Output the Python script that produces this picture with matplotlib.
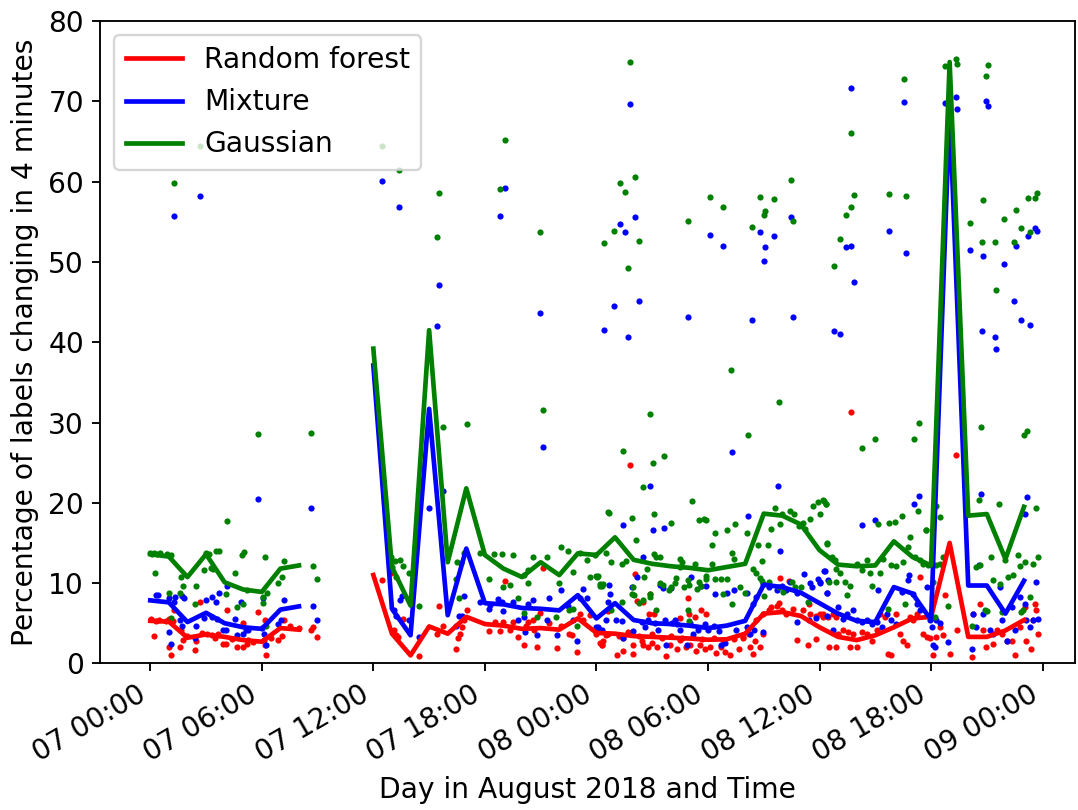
import numpy as np
import pandas as pd
import matplotlib
matplotlib.use('Agg')
import matplotlib.pyplot as plt
import matplotlib.dates as mdates

nan = float('nan')

# hourly averages, hours since 2018-08-07 00:00 (no data 09:00-11:00)
rf_hourly = [5.3, 5.2, 3.2, 3.6, 3.3, 2.9, 2.7, 4.4, 4.2, nan, nan, nan,
             11.0, 3.7, 1.0, 4.6, 3.7, 5.8, 4.9, 4.7, 4.3, 4.4, 4.2, 5.6,
             3.8, 3.7, 3.4, 3.3, 3.2, 3.1, 2.95, 3.0, 3.7, 6.2, 6.4, 5.9,
             4.5, 3.3, 2.9, 3.5, 4.5, 5.6, 5.8, 15.0, 3.3, 3.3, 4.1, 5.4]
mix_hourly = [7.85, 7.6, 5.15, 6.3, 5.0, 4.5, 4.3, 6.7, 7.1, nan, nan, nan,
              37.1, 6.8, 3.5, 31.7, 6.0, 14.3, 7.5, 7.35, 6.9, 6.8, 6.6, 8.5,
              5.6, 7.5, 5.4, 5.0, 4.9, 4.7, 4.4, 4.7, 5.3, 9.8, 9.5, 8.8,
              7.5, 6.2, 5.3, 5.15, 9.5, 8.7, 5.4, 69.0, 9.7, 9.7, 6.2, 10.3]
gau_hourly = [13.6, 13.3, 10.75, 13.6, 10.1, 9.2, 8.9, 11.8, 12.2, nan, nan, nan,
              39.2, 12.0, 7.2, 41.5, 12.6, 21.8, 13.5, 11.8, 10.75, 12.6, 11.0, 13.7,
              13.5, 15.7, 12.9, 12.4, 12.1, 11.9, 11.6, 12.0, 12.4, 18.65, 18.4, 17.3,
              14.1, 12.3, 12.1, 12.2, 15.2, 13.25, 12.2, 74.9, 18.4, 18.6, 13.0, 19.5]

# individual measurements (hours since 2018-08-07 00:00, percentage)
rf_points = [
    (0.05, 5.5), (0.2, 3.45), (0.3, 5.3), (0.45, 5.4), (0.85, 5.3), (1.0, 5.5), (1.1, 5.4), (1.2, 5.3),
    (0.99, 2.0), (1.13, 1.1), (1.25, 6.6), (1.58, 2.0), (1.68, 4.1), (1.78, 2.95), (2.38, 1.7), (2.47, 2.8),
    (2.69, 7.6), (3.05, 3.6), (3.3, 3.5), (3.67, 3.7), (4.12, 6.6), (3.9, 2.45), (4.05, 2.45), (4.66, 2.0),
    (4.98, 2.0), (4.98, 5.0), (5.2, 2.45), (5.25, 2.9), (5.79, 6.4), (6.1, 2.95), (6.15, 2.25), (6.24, 1.1),
    (6.18, 5.35), (6.85, 2.95), (7.08, 3.35), (7.22, 5.35), (8.64, 4.2), (8.78, 4.5), (8.96, 3.3),
    (2.0, 3.4), (2.8, 3.8), (3.5, 3.2), (4.4, 3.0), (5.5, 2.7), (6.5, 3.1), (7.5, 4.6), (8.0, 4.4),
    (12.45, 10.4), (12.96, 11.2), (13.1, 4.1), (13.2, 3.5), (13.35, 3.3), (13.6, 5.55), (14.43, 0.9),
    (15.55, 7.2), (15.4, 3.7), (15.77, 4.6), (16.45, 1.8), (16.55, 3.1), (16.65, 3.6), (16.75, 4.5),
    (16.9, 5.35), (17.06, 6.6), (18.2, 4.0), (18.55, 5.15), (18.8, 4.0), (19.0, 5.15), (19.09, 10.25),
    (19.35, 4.1), (19.5, 5.15), (19.77, 3.3), (20.1, 2.25), (20.2, 4.6), (20.3, 5.15), (20.57, 5.35),
    (20.62, 4.1), (20.82, 2.0), (20.97, 6.3), (21.15, 11.9), (21.47, 5.0), (21.86, 1.9), (22.1, 4.7),
    (22.5, 3.7), (22.7, 3.5), (22.97, 1.4), (23.1, 6.2), (23.3, 5.45), (23.66, 6.05), (24.0, 3.7),
    (24.2, 2.5), (24.3, 2.25), (24.5, 3.5),
    (24.01, 4.1), (24.28, 2.25), (24.37, 2.85), (24.64, 6.5), (25.09, 1.1), (25.41, 1.55), (25.41, 3.2),
    (25.8, 24.75), (25.95, 1.2), (25.99, 2.25), (26.1, 11.1), (26.2, 7.8), (26.43, 2.85), (26.5, 7.7),
    (26.52, 2.25), (26.8, 2.0), (26.85, 6.2), (26.9, 8.7), (26.97, 2.5), (27.1, 6.2), (27.24, 2.0),
    (27.74, 0.9), (27.96, 2.25), (28.32, 1.8), (28.5, 2.95), (28.5, 5.7), (28.82, 2.0), (28.9, 8.15),
    (29.0, 6.2), (29.03, 2.35), (29.3, 5.8), (29.35, 1.55), (29.57, 2.25), (29.6, 6.6), (29.84, 1.8),
    (29.9, 6.2), (30.1, 2.0), (30.43, 1.3), (30.68, 2.0), (30.91, 1.4), (31.18, 1.1), (31.68, 1.8),
    (31.87, 3.3), (32.26, 2.0), (32.44, 1.2), (32.53, 2.85), (32.6, 5.35), (32.8, 2.0), (32.97, 3.7),
    (32.97, 6.2), (33.3, 6.6), (33.4, 7.05), (33.7, 7.1), (33.8, 7.5), (33.87, 10.6), (33.96, 6.6),
    (34.2, 6.2), (34.37, 10.3), (34.6, 6.8), (34.8, 2.95), (35.1, 6.6), (35.4, 2.25), (35.45, 7.35),
    (35.5, 6.2), (35.8, 5.85), (35.8, 3.0), (36.0, 6.2), (36.2, 5.8), (36.5, 2.0), (36.9, 2.0), (36.9, 5.8),
    (24.6, 3.6), (25.2, 3.4), (25.7, 3.9), (26.3, 3.4), (27.0, 3.6), (27.5, 3.2), (28.0, 3.4), (28.6, 3.1),
    (29.2, 3.3), (29.7, 3.0), (30.3, 3.2), (30.8, 2.9), (31.4, 3.0), (31.9, 3.2), (32.2, 3.6),
    (36.2, 6.2), (36.47, 5.8), (36.74, 6.2), (37.0, 3.7), (37.28, 4.1), (37.54, 3.9), (37.63, 2.0),
    (37.72, 31.3), (37.81, 3.7), (37.99, 2.0), (38.26, 3.9), (38.53, 3.7), (38.8, 2.85), (39.07, 4.1),
    (39.25, 6.2), (39.52, 5.8), (39.7, 1.2), (39.87, 1.0), (40.14, 6.2), (40.32, 3.7), (40.5, 2.85),
    (40.68, 2.25), (40.86, 5.8), (41.04, 5.35), (41.22, 6.2), (41.4, 10.75), (41.58, 3.7), (41.76, 3.3),
    (41.94, 3.1), (42.11, 1.0), (42.29, 3.3), (42.47, 4.5), (42.65, 3.5), (42.74, 8.5), (43.0, 1.2),
    (43.32, 26.0), (43.37, 4.1), (44.18, 0.8), (44.27, 6.2), (44.62, 7.4), (44.8, 4.1), (44.98, 2.0),
    (45.34, 2.45), (45.52, 4.1), (45.79, 3.7), (46.06, 2.85), (46.33, 2.85), (46.5, 1.0), (46.77, 4.5),
    (47.04, 7.0), (47.13, 2.85), (47.4, 1.8), (47.49, 5.35), (47.58, 7.4), (47.67, 6.6), (47.76, 3.7),
]
mix_points = [
    (0.3, 8.5), (0.43, 8.5), (1.0, 8.1), (1.29, 7.6), (1.35, 8.3), (1.7, 8.4), (1.8, 8.2), (0.99, 3.9),
    (1.13, 2.4), (1.7, 4.6), (1.61, 5.35), (2.38, 3.15), (2.47, 4.65), (3.0, 7.9), (3.3, 8.3), (3.55, 7.7),
    (3.71, 8.8), (2.9, 5.6), (3.3, 5.8), (3.6, 5.5), (3.9, 4.2), (4.05, 4.2), (4.12, 9.7), (4.57, 5.5),
    (4.66, 3.5), (4.89, 7.6), (4.98, 3.6), (5.15, 4.1), (5.25, 4.15), (5.79, 20.5), (6.09, 8.1), (6.0, 4.4),
    (6.12, 3.7), (6.2, 2.3), (6.87, 4.85), (7.04, 5.35), (7.22, 7.9), (8.64, 19.4), (8.78, 7.1),
    (8.96, 5.35), (1.29, 55.7), (2.7, 58.2),
    (12.46, 60.1), (13.37, 56.8), (13.1, 6.7), (13.2, 5.85), (13.44, 7.85), (13.53, 8.35), (13.94, 5.45),
    (14.43, 3.3), (15.02, 19.3), (15.41, 42.0), (15.55, 47.1), (15.77, 21.5), (16.45, 4.6), (16.6, 5.85),
    (16.76, 5.85), (16.88, 8.35), (17.74, 7.7), (18.24, 6.8), (18.3, 7.3), (18.7, 8.05), (18.83, 55.7),
    (18.9, 7.65), (18.96, 6.5), (19.09, 59.2), (19.5, 7.65), (19.77, 5.35), (20.13, 5.8), (20.15, 3.9),
    (20.3, 7.4), (20.57, 7.9), (20.79, 3.5), (20.97, 43.7), (21.15, 27.0), (21.33, 5.45), (21.47, 8.15),
    (21.86, 3.5), (22.1, 9.2), (22.46, 7.2), (22.72, 5.45), (22.97, 2.75), (23.1, 8.2), (23.3, 9.3),
    (23.5, 8.2), (24.0, 4.5), (24.2, 4.2), (24.4, 41.5), (24.5, 5.35), (24.6, 7.65),
    (24.1, 4.5), (24.28, 4.2), (24.7, 9.8), (24.72, 8.7), (24.93, 44.5), (25.05, 5.35), (25.29, 54.7),
    (25.4, 5.3), (25.45, 3.2), (25.45, 17.2), (25.54, 53.7), (25.68, 40.6), (25.82, 69.7), (25.9, 9.5),
    (25.99, 4.0), (26.08, 55.6), (26.2, 10.75), (26.29, 45.1), (26.43, 5.15), (26.49, 13.2), (26.6, 4.5),
    (26.8, 5.35), (26.88, 22.1), (27.02, 16.6), (27.15, 5.0), (27.33, 4.1), (27.4, 9.8), (27.6, 9.4),
    (27.63, 16.9), (27.69, 5.35), (27.74, 2.25), (28.0, 9.4), (28.05, 5.0), (28.2, 5.35), (28.35, 4.85),
    (28.5, 4.1), (28.85, 2.35), (28.92, 43.2), (29.03, 5.0), (29.1, 10.8), (29.2, 3.7), (29.48, 4.1),
    (29.6, 9.7), (29.84, 4.85), (29.9, 9.6), (30.0, 4.2), (30.09, 53.3), (30.3, 4.6), (30.4, 8.7),
    (30.6, 4.0), (30.7, 2.35), (30.81, 52.0), (30.9, 2.6), (31.0, 8.8), (31.27, 26.3), (31.4, 9.1),
    (31.5, 4.1), (32.08, 4.5), (32.08, 8.8), (32.13, 18.3), (32.26, 3.7), (32.35, 42.8), (32.4, 7.4),
    (32.5, 4.1), (32.6, 8.3), (32.81, 53.7), (32.97, 3.9), (32.97, 9.85), (33.01, 50.1), (33.05, 51.8),
    (33.3, 9.5), (33.55, 53.2), (33.7, 9.1), (33.78, 22.1), (33.87, 14.0), (33.96, 9.7), (34.2, 9.1),
    (34.4, 10.1), (34.46, 55.6), (34.6, 43.1), (34.8, 8.8), (34.8, 5.15), (35.16, 11.1), (35.45, 5.35),
    (35.5, 10.0), (35.6, 9.5), (35.8, 5.6), (35.9, 10.55), (36.0, 10.0), (36.3, 11.5), (36.4, 8.8),
    (36.4, 5.85), (36.7, 4.1), (36.79, 41.4),
    (36.02, 10.15), (36.24, 11.5), (36.38, 8.8), (36.47, 10.35), (37.0, 7.0), (37.11, 41.0), (37.28, 5.55),
    (37.45, 51.8), (37.46, 6.2), (37.69, 52.0), (37.72, 71.7), (37.81, 6.6), (37.85, 47.5), (37.99, 5.35),
    (38.26, 5.15), (38.26, 17.2), (38.53, 5.35), (38.8, 4.95), (38.98, 17.8), (39.07, 5.15), (39.16, 9.2),
    (39.34, 4.5), (39.61, 6.2), (39.73, 53.8), (39.87, 5.35), (40.14, 4.95), (40.41, 8.9), (40.54, 69.9),
    (40.65, 51.1), (40.77, 10.35), (40.82, 10.95), (41.04, 8.7), (41.08, 19.8), (41.22, 7.4), (41.36, 20.9),
    (41.4, 6.6), (41.76, 9.5), (41.94, 5.35), (42.03, 4.5), (42.11, 2.25), (42.2, 2.0), (42.29, 5.35),
    (42.47, 5.0), (42.74, 69.8), (42.92, 2.65), (43.33, 70.6), (43.4, 69.0), (44.07, 51.5), (44.18, 1.8),
    (44.27, 6.2), (44.44, 4.5), (44.59, 12.3), (44.66, 21.1), (44.73, 41.4), (44.77, 50.8), (44.8, 6.2),
    (44.98, 70.0), (45.05, 69.4), (45.16, 4.1), (45.34, 3.7), (45.43, 40.7), (45.5, 39.2), (45.7, 9.5),
    (45.79, 5.35), (45.93, 49.8), (46.06, 2.85), (46.33, 7.0), (46.45, 45.1), (46.5, 4.1), (46.58, 52.0),
    (46.77, 8.3), (46.86, 42.8), (47.04, 18.6), (47.04, 7.4), (47.13, 5.35), (47.17, 20.7), (47.24, 53.2),
    (47.31, 42.1), (47.31, 4.5), (47.49, 5.35), (47.58, 54.2), (47.67, 10.1), (47.7, 53.9), (47.76, 5.55),
]
gau_points = [
    (0.0, 13.7), (0.1, 13.6), (0.2, 13.8), (0.35, 13.6), (0.5, 13.7), (0.9, 13.6), (1.1, 13.5),
    (0.25, 11.3), (1.29, 59.8), (1.65, 10.75), (0.99, 8.8), (1.61, 8.8), (1.74, 9.7), (2.47, 9.6),
    (2.42, 7.4), (2.69, 64.5), (2.87, 11.6), (3.0, 13.8), (3.14, 13.6), (3.25, 11.9), (3.4, 11.7),
    (3.55, 14.0), (3.71, 14.0), (4.07, 8.6), (4.12, 17.7), (4.57, 11.3), (4.66, 7.0), (4.98, 7.4),
    (4.95, 13.5), (5.05, 13.9), (5.2, 9.2), (5.79, 28.6), (6.15, 13.2), (6.08, 8.3), (6.08, 7.5),
    (6.27, 8.8), (6.24, 4.6), (6.85, 10.0), (7.08, 10.75), (7.22, 12.8), (8.64, 28.7), (8.78, 12.1),
    (8.96, 10.55), (1.11, 5.6),
    (12.46, 64.5), (13.37, 61.4), (12.96, 13.2), (13.03, 12.0), (13.17, 12.8), (13.23, 10.75),
    (13.44, 12.9), (13.59, 12.1), (13.94, 11.2), (14.43, 7.2), (15.0, 29.7), (15.41, 53.1), (15.55, 58.6),
    (15.77, 29.4), (16.45, 10.5), (16.5, 12.6), (16.61, 8.2), (16.7, 12.5), (16.9, 13.75), (17.03, 29.8),
    (17.74, 13.7), (18.24, 10.55), (18.5, 13.6), (18.8, 59.1), (18.9, 13.6), (18.96, 9.5), (19.09, 65.2),
    (19.35, 9.8), (19.5, 13.5), (19.77, 8.2), (20.13, 11.05), (20.13, 6.3), (20.3, 11.6), (20.34, 10.05),
    (20.57, 13.25), (20.79, 5.8), (20.95, 53.7), (21.15, 31.5), (21.33, 13.25), (21.83, 5.8), (22.0, 10.0),
    (22.1, 14.5), (22.46, 14.0), (22.5, 6.6), (22.72, 11.4), (22.76, 6.8), (22.97, 4.7), (23.1, 13.7),
    (23.5, 12.9), (23.66, 10.75), (24.05, 10.75), (24.2, 9.7), (24.3, 9.7), (23.9, 13.5), (24.4, 52.3),
    (24.64, 18.9),
    (24.0, 10.85), (24.1, 10.85), (24.2, 9.9), (24.35, 9.9), (24.5, 13.7), (24.7, 18.7), (24.77, 6.6),
    (24.8, 12.6), (24.93, 53.9), (25.29, 59.8), (25.4, 12.4), (25.4, 7.6), (25.45, 26.5), (25.54, 58.7),
    (25.6, 12.8), (25.68, 49.3), (25.82, 74.9), (25.9, 18.1), (25.9, 8.7), (25.98, 9.5), (26.0, 8.5),
    (26.08, 60.6), (26.13, 15.4), (26.29, 52.6), (26.3, 7.5), (26.49, 22.0), (26.5, 7.85), (26.56, 10.8),
    (26.7, 11.8), (26.88, 31.0), (26.88, 8.7), (26.9, 8.3), (27.02, 25.0), (27.1, 18.6), (27.1, 13.6),
    (27.19, 6.7), (27.2, 13.2), (27.4, 10.0), (27.44, 13.2), (27.6, 9.8), (27.63, 25.8), (27.9, 9.1),
    (28.0, 17.5), (28.0, 9.5), (28.2, 10.0), (28.3, 10.6), (28.5, 13.0), (28.5, 12.0), (28.6, 12.6),
    (28.7, 9.5), (28.9, 10.4), (28.9, 6.7), (28.92, 55.1), (29.0, 9.8), (29.0, 5.3), (29.14, 20.2),
    (29.3, 12.4), (29.4, 9.3), (29.5, 10.1), (29.5, 17.8), (29.6, 9.7), (29.8, 18.0), (29.9, 10.9),
    (29.9, 10.5), (29.9, 17.9), (30.09, 58.1), (30.2, 12.4), (30.2, 14.8), (30.4, 10.5), (30.4, 16.3),
    (30.7, 10.5), (30.8, 8.7), (30.81, 56.9), (31.0, 10.5), (31.0, 16.6), (31.25, 36.5), (31.3, 13.75),
    (31.3, 7.4), (31.4, 13.0), (31.45, 17.3), (31.7, 9.5), (32.0, 8.8), (32.08, 16.3), (32.13, 28.4),
    (32.35, 54.3), (32.4, 11.8), (32.6, 11.2), (32.7, 14.8), (32.8, 58.1), (32.8, 10.6), (32.9, 12.8),
    (32.9, 10.3), (33.0, 8.4), (33.01, 55.8), (33.06, 56.4), (33.24, 14.8), (33.3, 10.1), (33.39, 16.8),
    (33.53, 57.9), (33.6, 19.3), (33.8, 32.5), (33.8, 9.5), (33.9, 17.4), (33.96, 18.65), (34.05, 8.9),
    (34.4, 19.0), (34.46, 60.2), (34.5, 10.1), (34.6, 55.1), (34.62, 18.65), (34.7, 9.5), (34.91, 17.1),
    (35.0, 9.5), (35.13, 17.5), (35.22, 16.8), (35.4, 7.7), (35.48, 18.0), (35.63, 19.6), (35.9, 20.1),
    (36.02, 18.65), (36.2, 20.3), (36.33, 19.9), (36.42, 15.0), (36.5, 10.1), (36.79, 49.5), (36.9, 10.1),
    (36.9, 11.8),
    (36.25, 20.2), (36.34, 19.9), (36.38, 14.9), (36.65, 13.25), (36.83, 12.85), (37.1, 11.2),
    (37.11, 52.8), (37.37, 10.15), (37.45, 55.8), (37.5, 8.5), (37.63, 9.7), (37.69, 56.9), (37.72, 66.0),
    (37.85, 58.3), (38.0, 12.4), (38.26, 11.6), (38.26, 26.8), (38.53, 12.85), (38.71, 11.2), (38.8, 9.7),
    (38.98, 27.9), (39.12, 17.3), (39.25, 11.2), (39.43, 13.05), (39.7, 6.8), (39.73, 17.5), (39.73, 58.5),
    (39.87, 12.2), (40.05, 17.6), (40.14, 12.1), (40.41, 18.4), (40.5, 12.6), (40.54, 72.8), (40.6, 7.4),
    (40.65, 58.2), (40.77, 14.5), (40.86, 15.75), (41.08, 27.9), (41.13, 13.25), (41.31, 19.0),
    (41.36, 29.9), (41.4, 12.85), (41.58, 12.4), (41.72, 16.65), (41.75, 16.6), (41.85, 12.3),
    (42.11, 10.15), (42.2, 5.8), (42.26, 19.6), (42.29, 12.2), (42.47, 12.4), (42.5, 18.2), (42.65, 13.25),
    (42.74, 74.4), (42.92, 7.2), (43.33, 75.3), (43.4, 74.6), (44.07, 54.8), (44.2, 4.7), (44.44, 12.0),
    (44.59, 20.3), (44.62, 12.2), (44.66, 29.5), (44.73, 52.5), (44.77, 57.7), (44.89, 6.6), (44.98, 73.1),
    (45.0, 6.5), (45.05, 74.5), (45.25, 13.25), (45.34, 10.35), (45.43, 52.5), (45.5, 46.5), (45.66, 19.9),
    (45.7, 9.9), (45.8, 6.4), (45.91, 55.4), (45.97, 12.85), (46.15, 10.75), (46.41, 10.95), (46.45, 52.5),
    (46.56, 56.5), (46.68, 13.45), (46.77, 12.1), (46.86, 54.2), (46.86, 6.4), (46.95, 6.6), (46.99, 28.4),
    (47.04, 12.6), (47.17, 28.9), (47.24, 58.0), (47.31, 53.7), (47.31, 8.3), (47.49, 12.4), (47.6, 58.0),
    (47.67, 19.4), (47.7, 58.6), (47.76, 13.3),
]

start = pd.Timestamp('2018-08-07 00:00')


def to_time(hours):
    return (start + pd.to_timedelta(np.asarray(hours, dtype=float), unit='h')).to_numpy()


plt.rcParams['font.size'] = 12

fig, ax = plt.subplots(figsize=(1078 / 168.4, 810 / 168.4), dpi=168.4)

for pts, color in [(rf_points, 'red'), (mix_points, 'blue'), (gau_points, 'green')]:
    h, v = zip(*pts)
    ax.scatter(to_time(h), v, s=7, color=color, linewidths=0)

hourly_t = to_time(range(len(rf_hourly)))
ax.plot(hourly_t, rf_hourly, color='red', lw=2, label='Random forest')
ax.plot(hourly_t, mix_hourly, color='blue', lw=2, label='Mixture')
ax.plot(hourly_t, gau_hourly, color='green', lw=2, label='Gaussian')

ax.xaxis.set_major_locator(mdates.HourLocator(byhour=[0, 6, 12, 18]))
ax.xaxis.set_major_formatter(mdates.DateFormatter('%d %H:%M'))
ax.set_xlim(start - pd.Timedelta(hours=2.69), start + pd.Timedelta(hours=49.73))
ax.set_ylim(0, 80)
fig.autofmt_xdate()

ax.set_xlabel('Day in August 2018 and Time')
ax.set_ylabel('Percentage of labels changing in 4 minutes')
ax.legend(loc='upper left')

fig.subplots_adjust(left=0.093, right=0.997, top=0.974, bottom=0.181)
fig.savefig('out.png')
